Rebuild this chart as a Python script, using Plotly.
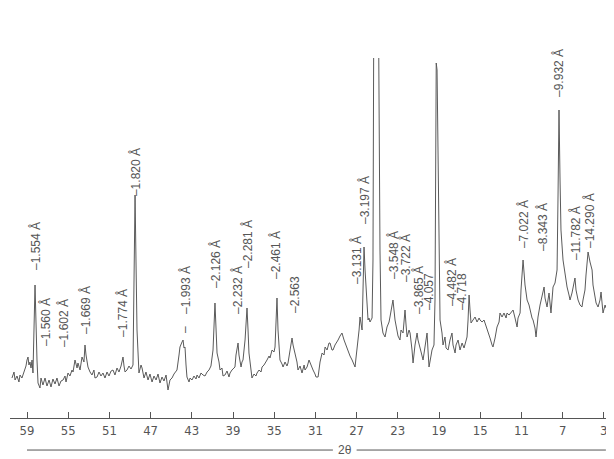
import plotly.graph_objects as go

# ---- data ----
two_theta = [60.46, 60.26, 60.16, 59.97, 59.78, 59.68, 59.49, 59.29, 59.19, 59.10, 59.00, 58.90, 58.81, 58.71, 58.61, 58.51, 58.42, 58.22, 58.03, 57.93,
             57.74, 57.64, 57.45, 57.25, 57.06, 56.86, 56.67, 56.48, 56.28, 56.09, 55.89, 55.70, 55.50, 55.31, 55.21, 55.02, 54.83, 54.63, 54.53, 54.34,
             54.14, 54.05, 53.85, 53.66, 53.47, 53.37, 53.27, 53.08, 52.88, 52.69, 52.50, 52.40, 52.20, 52.01, 51.82, 51.62, 51.43, 51.23, 51.04, 50.84,
             50.65, 50.46, 50.26, 50.07, 49.87, 49.68, 49.58, 49.48, 49.29, 49.10, 48.90, 48.80, 48.71, 48.51, 48.32, 48.13, 47.93, 47.83, 47.64, 47.45,
             47.25, 47.06, 46.86, 46.67, 46.47, 46.28, 46.09, 45.89, 45.70, 45.50, 45.31, 45.12, 44.92, 44.73, 44.53, 44.44, 44.24, 44.15, 43.95, 43.85,
             43.76, 43.66, 43.56, 43.47, 43.27, 43.17, 42.98, 42.79, 42.59, 42.49, 42.30, 42.11, 41.91, 41.72, 41.52, 41.33, 41.14, 41.04, 40.94, 40.75,
             40.65, 40.55, 40.36, 40.26, 40.07, 39.97, 39.78, 39.58, 39.39, 39.29, 39.10, 38.90, 38.81, 38.71, 38.51, 38.42, 38.22, 38.13, 38.03, 37.83,
             37.64, 37.54, 37.45, 37.25, 37.16, 36.96, 36.77, 36.67, 36.47, 36.28, 36.18, 35.99, 35.79, 35.70, 35.50, 35.41, 35.21, 35.02, 34.92, 34.73,
             34.63, 34.44, 34.24, 34.14, 33.95, 33.76, 33.66, 33.46, 33.27, 33.17, 32.98, 32.79, 32.69, 32.49, 32.30, 32.10, 32.01, 31.81, 31.62, 31.42,
             31.23, 31.04, 30.94, 30.74, 30.55, 30.35, 30.16, 30.06, 29.87, 29.68, 29.58, 29.39, 29.29, 29.10, 28.90, 28.80, 28.61, 28.42, 28.22, 28.12,
             27.93, 27.83, 27.64, 27.44, 27.25, 27.15, 27.06, 26.96, 26.76, 26.67, 26.57, 26.47, 26.38, 26.28, 26.18, 25.99, 25.89, 25.80, 25.70, 25.60,
             25.50, 25.41, 25.31, 25.12, 24.92, 24.73, 24.63, 24.44, 24.24, 24.05, 23.85, 23.76, 23.56, 23.47, 23.27, 23.08, 22.98, 22.79, 22.69, 22.49,
             22.40, 22.30, 22.20, 22.10, 21.91, 21.81, 21.62, 21.52, 21.33, 21.13, 21.04, 20.84, 20.74, 20.55, 20.36, 20.16, 20.07, 19.97, 19.78, 19.68,
             19.49, 19.39, 19.27, 19.19, 18.90, 18.71, 18.61, 18.42, 18.32, 18.12, 17.93, 17.74, 17.64, 17.44, 17.35, 17.15, 16.96, 16.76, 16.57, 16.38,
             16.28, 16.18, 16.08, 15.99, 15.89, 15.70, 15.50, 15.31, 15.11, 15.02, 14.82, 14.63, 14.53, 14.34, 14.24, 14.05, 13.85, 13.76, 13.56, 13.37,
             13.17, 13.08, 12.88, 12.69, 12.49, 12.40, 12.20, 12.01, 11.81, 11.62, 11.42, 11.33, 11.13, 11.04, 10.84, 10.65, 10.45, 10.26, 10.16, 9.97,
             9.87, 9.68, 9.58, 9.48, 9.39, 9.19, 9.00, 8.80, 8.71, 8.51, 8.42, 8.32, 8.13, 8.03, 7.93, 7.74, 7.54, 7.45, 7.35, 7.25,
             7.16, 6.96, 6.77, 6.57, 6.38, 6.28, 6.09, 5.99, 5.80, 5.70, 5.50, 5.31, 5.12, 5.02, 4.83, 4.73, 4.53, 4.34, 4.14, 4.05,
             3.85, 3.75, 3.56, 3.37, 3.27, 3.17, 3.08, 2.88, 2.78]

intensity = [42, 48, 40, 44, 38, 45, 42, 48, 50, 54, 60, 63, 55, 58, 52, 60, 47, 135, 60, 37,
             32, 42, 35, 42, 34, 40, 33, 41, 36, 42, 34, 39, 40, 44, 38, 47, 44, 50, 48, 60,
             52, 57, 50, 63, 58, 75, 65, 53, 48, 45, 50, 42, 43, 48, 44, 47, 42, 48, 44, 49,
             50, 45, 52, 48, 54, 63, 54, 48, 50, 54, 51, 53, 55, 225, 90, 47, 55, 52, 42, 48,
             40, 46, 38, 44, 40, 46, 37, 43, 39, 45, 30, 40, 42, 46, 49, 50, 65, 73, 78, 80,
             72, 73, 55, 43, 38, 42, 40, 44, 41, 45, 42, 47, 45, 44, 48, 50, 54, 60, 70, 117,
             85, 67, 58, 50, 52, 44, 45, 49, 43, 47, 50, 52, 53, 65, 77, 65, 53, 58, 60, 80,
             112, 90, 67, 50, 42, 46, 44, 47, 50, 48, 53, 55, 58, 60, 64, 62, 70, 68, 73, 122,
             90, 60, 56, 53, 58, 54, 57, 70, 82, 75, 67, 58, 50, 54, 47, 55, 50, 53, 60, 54,
             50, 46, 43, 43, 58, 67, 65, 73, 70, 77, 77, 70, 70, 75, 78, 80, 84, 87, 80, 77,
             72, 70, 64, 60, 56, 53, 62, 70, 90, 103, 95, 90, 130, 173, 150, 110, 100, 102, 98, 100,
             102, 160, 480, 520, 480, 170, 100, 87, 83, 93, 98, 103, 115, 120, 100, 90, 84, 80, 90, 87,
             100, 110, 95, 83, 90, 87, 70, 57, 75, 87, 80, 73, 68, 60, 75, 87, 70, 53, 64, 70,
             75, 120, 357, 350, 100, 87, 75, 83, 72, 70, 80, 87, 75, 67, 75, 80, 70, 77, 72, 80,
             83, 100, 125, 110, 97, 100, 103, 98, 102, 100, 98, 100, 97, 93, 90, 82, 75, 73, 82, 93,
             98, 107, 103, 107, 102, 107, 105, 108, 110, 102, 93, 102, 107, 130, 160, 135, 120, 115, 110, 102,
             100, 92, 83, 95, 103, 115, 123, 133, 122, 113, 120, 127, 107, 120, 133, 137, 150, 220, 310, 240,
             190, 160, 145, 133, 125, 120, 127, 133, 142, 130, 120, 115, 113, 120, 130, 145, 168, 158, 150, 135,
             123, 117, 113, 120, 128, 115, 107, 115, 112]

tick_values = [59, 55, 51, 47, 43, 39, 35, 31, 27, 23, 19, 15, 11, 7, 3]

peak_labels = ["–1.554 Å", "–1.560 Å", "–1.602 Å", "–1.669 Å", "–1.774 Å", "–1.820 Å", "–1.993 Å",
               "–2.126 Å", "–2.232 Å", "–2.281 Å", "–2.461 Å", "–2.563",
               "–3.131 Å", "–3.197 Å", "–3.337 Å", "–3.548 Å", "–3.722 Å", "–3.865 Å", "–4.057",
               "–4.249 Å", "–4.482 Å", "–4.718",
               "–7.022 Å", "–8.343 Å", "–9.932 Å", "–11.782 Å", "–14.290 Å"]
peak_two_theta = [58.22, 57.25, 55.50, 53.37, 49.78, 48.51, 43.66,
                  40.75, 38.61, 37.64, 34.92, 32.98,
                  27.06, 26.28, 25.41, 23.47, 22.30, 21.04, 19.97,
                  19.19, 17.83, 16.76,
                  10.84, 9.00, 7.45, 5.80, 4.44]

# ---- layout helpers (label heights, in intensity units) ----
label_height = [174, 98, 97, 110, 107, 248, 130,
                156, 130, 176, 165, 125,
                160, 220, 392, 165, 162, 130, 128,
                382, 138, 128,
                196, 193, 347, 187, 200]

ink = "#555555"
label_font = dict(family="Liberation Sans, Arial, sans-serif", size=12, color=ink)

fig = go.Figure()
fig.add_trace(go.Scatter(x=two_theta, y=intensity, mode="lines",
                         line=dict(color="#5a5a5a", width=1), hoverinfo="skip", showlegend=False))

annotations = []
for txt, xv, yv in zip(peak_labels, peak_two_theta, label_height):
    annotations.append(dict(x=xv, y=yv, xref="x", yref="y", text=txt, textangle=-90,
                            showarrow=False, xanchor="center", yanchor="middle", font=label_font))
# small pointer dash under the 1.993 label
annotations.append(dict(x=43.66, y=90, xref="x", yref="y", text="–", textangle=-90, showarrow=False,
                        font=label_font))
# axis title
annotations.append(dict(x=28.15, y=-0.089, xref="x", yref="paper", text="2θ", showarrow=False,
                        xanchor="center", yanchor="middle", font=label_font))

shapes = [
    dict(type="line", xref="x", yref="paper", x0=59.0, x1=29.3, y0=-0.089, y1=-0.089, line=dict(color=ink, width=1)),
    dict(type="line", xref="x", yref="paper", x0=27.0, x1=2.8, y0=-0.089, y1=-0.089, line=dict(color=ink, width=1)),
]

fig.update_layout(
    width=606, height=451,
    margin=dict(l=2, r=4, t=50, b=41),
    paper_bgcolor="white", plot_bgcolor="white",
    showlegend=False,
    annotations=annotations,
    shapes=shapes,
    xaxis=dict(range=[60.65, 2.4], tickvals=tick_values, ticktext=[str(v) for v in tick_values],
               ticks="inside", ticklen=6, tickcolor=ink, tickwidth=1,
               showline=True, linecolor=ink, linewidth=1, showgrid=False, zeroline=False,
               tickfont=dict(family="Liberation Sans Narrow, DejaVu Sans Condensed, Liberation Sans, sans-serif", size=13, color=ink)),
    yaxis=dict(range=[2, 362], visible=False, showgrid=False, zeroline=False),
)

fig.write_html("out.html")
